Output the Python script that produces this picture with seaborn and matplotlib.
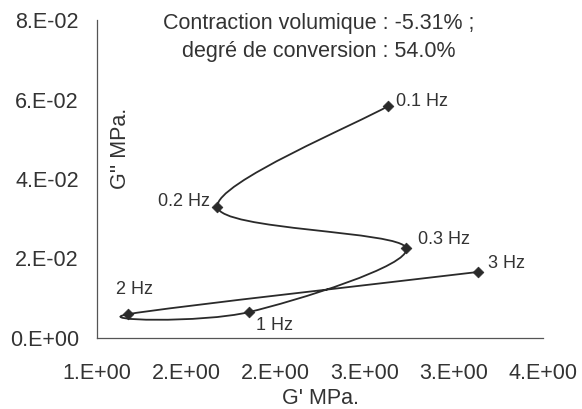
import matplotlib
matplotlib.use("Agg")
import matplotlib.pyplot as plt
from matplotlib.path import Path
from matplotlib.patches import PathPatch
from matplotlib.ticker import FuncFormatter
import numpy as np
import pandas as pd
import seaborn as sns

# data (G' and G'' in MPa)
freq_labels = ["0.1 Hz", "0.2 Hz", "0.3 Hz", "1 Hz", "2 Hz", "3 Hz"]
g_prime = [2.96, 1.81, 3.08, 2.02, 1.21, 3.56]
g_second = [0.0584, 0.0330, 0.0226, 0.0065, 0.0060, 0.0166]
x_ticks = [1.0, 1.6, 2.2, 2.8, 3.4, 4.0]
y_ticks = [0.0, 0.02, 0.04, 0.06, 0.08]

# label offsets in pixels (dx, dy, ha)
label_pos = [(8, 4, "left"), (-7, 5, "right"), (12, 9, "left"),
             (7, -13, "left"), (-12, 25, "left"), (10, 9, "left")]

sns.set_style("white")
plt.rcParams["font.family"] = ["Liberation Sans", "DejaVu Sans"]
txt = "#333333"
ink = "#2a2a2a"

df = pd.DataFrame({"Gp": g_prime, "Gs": g_second, "f": freq_labels})

fig = plt.figure(figsize=(5.82, 4.09), dpi=100)
ax = fig.add_axes([97/582, 1-338/409, (543-97)/582, (338-20)/409])

# smoothed line like the spreadsheet (cubic bezier, catmull-rom style)
P = df[["Gp", "Gs"]].to_numpy()
n = len(P)
verts = [P[0]]
codes = [Path.MOVETO]
for i in range(n-1):
    p_prev = P[i-1] if i > 0 else P[i]
    p_next2 = P[i+2] if i+2 < n else P[i+1]
    c1 = P[i] + (P[i+1] - p_prev) / 6
    c2 = P[i+1] - (p_next2 - P[i]) / 6
    verts += [c1, c2, P[i+1]]
    codes += [Path.CURVE4]*3
ax.add_patch(PathPatch(Path(verts, codes), fill=False, edgecolor=ink, lw=1.3))

sns.scatterplot(data=df, x="Gp", y="Gs", marker="D", s=30, color=ink,
                edgecolor=ink, linewidth=0.5, ax=ax, zorder=3)

for (xv, yv, lab), (dx, dy, ha) in zip(zip(g_prime, g_second, freq_labels), label_pos):
    ax.annotate(lab, (xv, yv), xytext=(dx, dy), textcoords="offset pixels",
                ha=ha, va="center", fontsize=13, color=txt)

ax.set_xlim(1.0, 4.0)
ax.set_ylim(0.0, 0.08)
ax.set_xticks(x_ticks)
ax.set_yticks(y_ticks)
fmt = FuncFormatter(lambda v, p: "%#.0E" % v)
ax.xaxis.set_major_formatter(fmt)
ax.yaxis.set_major_formatter(fmt)
ax.tick_params(axis="both", direction="out", length=4, width=0.8, colors="#555555",
               labelcolor=txt, labelsize=15.5)
ax.tick_params(axis="x", pad=14)
ax.tick_params(axis="y", pad=9)
ax.set_xlabel("G' MPa.", fontsize=15.5, color=txt, labelpad=3)
ax.set_ylabel("")
for s in ["top", "right"]:
    ax.spines[s].set_visible(False)
for s in ["left", "bottom"]:
    ax.spines[s].set_color("#555555")
    ax.spines[s].set_linewidth(0.9)

ax.text(121/582, 1-148/409, "G'' MPa.", transform=fig.transFigure, rotation=90,
        ha="center", va="center", fontsize=15.5, color=txt)
fig.text(319/582, 1-24/409, "Contraction volumique : -5.31% ;", ha="center",
         va="center", fontsize=15.5, color=txt)
fig.text(319/582, 1-52/409, "degré de conversion : 54.0%", ha="center",
         va="center", fontsize=15.5, color=txt)

fig.savefig("out.png", dpi=100)
